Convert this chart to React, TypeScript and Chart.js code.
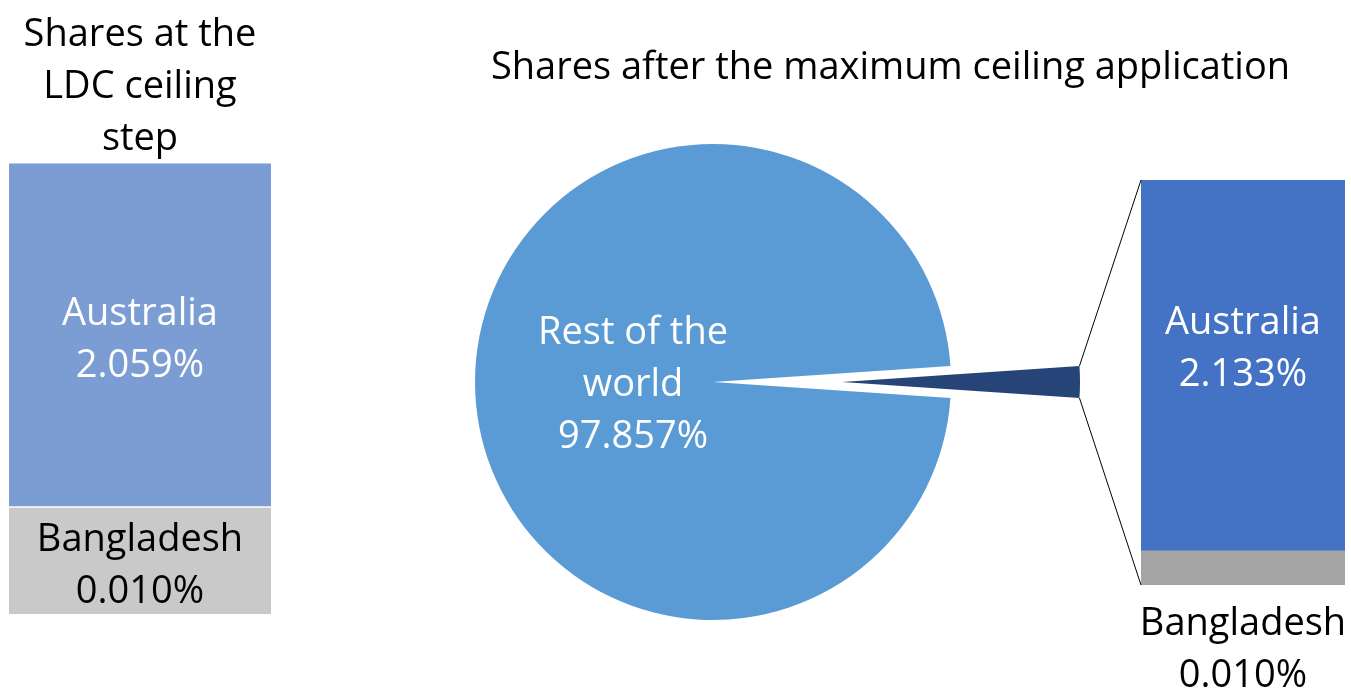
import React, { useEffect, useRef } from "react";
import { Chart, registerables } from "chart.js";

Chart.register(...registerables);

const FONT = "'Open Sans', sans-serif";
const FONT_SIZE = 38;
const LINE_H = 1.37;
const TEXT_SHIFT = 3;

// Left panel: shares at the LDC ceiling step (stack order bottom -> top)
const ldcTitle = ["Shares at the", "LDC ceiling", "step"];
const ldcCountries = ["Bangladesh", "Australia"];
const ldcShares = [0.01, 2.059];
const ldcColors = ["#C9C9C9", "#7B9DD4"];
const ldcTextColors = ["#000000", "#FFFFFF"];

// Pie: shares after the maximum ceiling application
const pieTitle = "Shares after the maximum ceiling application";
const pieLabels = ["Rest of the world", "Australia + Bangladesh"];
const pieShares = [97.857, 2.143];
const pieColors = ["#5B9BD5", "#264478"];

// Right bar (breakdown of the small slice), bottom -> top
const finalCountries = ["Bangladesh", "Australia"];
const finalShares = [0.01, 2.133];
const finalColors = ["#A5A5A5", "#4472C4"];
const finalTextColors = ["#000000", "#FFFFFF"];

const fmt = (v: number) => v.toFixed(3) + "%";

function drawLines(ctx: CanvasRenderingContext2D, lines: string[], x: number, yCenter: number, color: string) {
  const lh = FONT_SIZE * LINE_H;
  ctx.save();
  ctx.font = `${FONT_SIZE}px ${FONT}`;
  ctx.fillStyle = color;
  ctx.textAlign = "center";
  ctx.textBaseline = "middle";
  const y0 = yCenter - ((lines.length - 1) * lh) / 2 + TEXT_SHIFT;
  lines.forEach((l, i) => ctx.fillText(l, x, y0 + i * lh));
  ctx.restore();
}

export default function App() {
  const leftRef = useRef<HTMLCanvasElement>(null);
  const pieRef = useRef<HTMLCanvasElement>(null);
  const pieOutRef = useRef<HTMLCanvasElement>(null);
  const rightRef = useRef<HTMLCanvasElement>(null);

  useEffect(() => {
    const charts: Chart[] = [];
    const total = pieShares.reduce((a, b) => a + b, 0);
    const rotation = 90 + (pieShares[1] / total) * 180;

    // Left stacked bar
    charts.push(
      new Chart(leftRef.current!, {
        type: "bar",
        data: {
          labels: ["LDC"],
          datasets: ldcCountries.map((c, i) => ({
            label: c,
            data: [ldcShares[i]],
            backgroundColor: ldcColors[i],
            borderColor: "#FFFFFF",
            borderWidth: i === 1 ? { top: 0, left: 0, right: 0, bottom: 2 } : 0,
            borderSkipped: false,
            barPercentage: 1,
            categoryPercentage: 1,
          })),
        },
        options: {
          responsive: false,
          animation: false,
          events: [],
          layout: { padding: { left: 9, right: 19, top: 0, bottom: 78 } },
          scales: {
            x: { display: false, stacked: true },
            y: {
              type: "logarithmic",
              display: false,
              stacked: true,
              min: 0.00194,
              max: ldcShares.reduce((a, b) => a + b, 0),
            },
          },
          plugins: {
            legend: { display: false },
            tooltip: { enabled: false },
            title: {
              display: true,
              text: ldcTitle,
              color: "#000000",
              font: { family: FONT, size: FONT_SIZE, weight: "normal", lineHeight: LINE_H },
              padding: { top: 9, bottom: -2 },
            },
          },
        },
        plugins: [
          {
            id: "ldcLabels",
            afterDatasetsDraw(chart: any) {
              chart.data.datasets.forEach((ds: any, i: number) => {
                const el: any = chart.getDatasetMeta(i).data[0];
                drawLines(chart.ctx, [ds.label, fmt(ldcShares[i])], el.x, (el.y + el.base) / 2 + 2, ldcTextColors[i]);
              });
            },
          },
        ],
      } as any)
    );

    // Pie (main, without the pulled-out slice)
    charts.push(
      new Chart(pieRef.current!, {
        type: "pie",
        data: {
          labels: pieLabels,
          datasets: [
            {
              data: pieShares,
              backgroundColor: [pieColors[0], "rgba(0,0,0,0)"],
              borderWidth: 0,
            },
          ],
        },
        options: {
          responsive: false,
          animation: false,
          events: [],
          rotation,
          radius: 238,
          layout: { padding: 0 },
          plugins: { legend: { display: false }, tooltip: { enabled: false } },
        },
        plugins: [
          {
            id: "pieLabel",
            afterDatasetsDraw(chart: any) {
              const arc: any = chart.getDatasetMeta(0).data[0];
              const mid = (arc.startAngle + arc.endAngle) / 2;
              const r = arc.outerRadius * 0.336;
              drawLines(
                chart.ctx,
                ["Rest of the", "world", fmt(pieShares[0])],
                arc.x + Math.cos(mid) * r,
                arc.y + Math.sin(mid) * r,
                "#FFFFFF"
              );
            },
          },
        ],
      } as any)
    );

    // Pulled-out slice
    const pieOut = new Chart(pieOutRef.current!, {
      type: "pie",
      data: {
        labels: pieLabels,
        datasets: [
          {
            data: pieShares,
            backgroundColor: ["rgba(0,0,0,0)", pieColors[1]],
            borderWidth: 0,
          },
        ],
      },
      options: {
        responsive: false,
        animation: false,
        events: [],
        rotation,
        radius: 238,
        layout: { padding: 0 },
        plugins: { legend: { display: false }, tooltip: { enabled: false } },
      },
    } as any);
    charts.push(pieOut);

    // Right stacked bar with the main title and connector lines
    charts.push(
      new Chart(rightRef.current!, {
        type: "bar",
        data: {
          labels: ["Other"],
          datasets: finalCountries.map((c, i) => ({
            label: c,
            data: [finalShares[i]],
            backgroundColor: finalColors[i],
            borderWidth: 0,
            barPercentage: 1,
            categoryPercentage: 1,
          })),
        },
        options: {
          responsive: false,
          animation: false,
          events: [],
          layout: { padding: { left: 0, right: 6, top: 0, bottom: 107 } },
          scales: {
            x: { display: false, stacked: true },
            y: {
              type: "logarithmic",
              display: true,
              stacked: true,
              min: 0.0061,
              max: finalShares.reduce((a, b) => a + b, 0),
              ticks: { display: false },
              grid: { display: false },
              border: { display: false },
              afterFit: (scale: any) => {
                scale.width = 705;
              },
            },
          },
          plugins: {
            legend: { display: false },
            tooltip: { enabled: false },
            title: {
              display: true,
              text: pieTitle,
              color: "#000000",
              font: { family: FONT, size: FONT_SIZE, weight: "normal", lineHeight: LINE_H },
              padding: { top: 42, bottom: 86 },
            },
          },
        },
        plugins: [
          {
            id: "finalLabelsAndConnectors",
            afterDatasetsDraw(chart: any) {
              const ctx = chart.ctx;
              const lh = FONT_SIZE * LINE_H;
              const topEl: any = chart.getDatasetMeta(1).data[0];
              const botEl: any = chart.getDatasetMeta(0).data[0];
              // Australia inside
              drawLines(ctx, [finalCountries[1], fmt(finalShares[1])], topEl.x, (topEl.y + topEl.base) / 2 - 19, finalTextColors[1]);
              // Bangladesh below the bar
              drawLines(ctx, [finalCountries[0], fmt(finalShares[0])], botEl.x, botEl.base + 36 + lh / 2, finalTextColors[0]);

              // connector lines from pulled-out slice to bar
              const arc: any = pieOut.getDatasetMeta(0).data[1];
              const pr = pieOut.canvas.getBoundingClientRect();
              const cr = chart.canvas.getBoundingClientRect();
              const dx = pr.left - cr.left;
              const dy = pr.top - cr.top;
              const p1 = {
                x: arc.x + Math.cos(arc.startAngle) * arc.outerRadius + dx,
                y: arc.y + Math.sin(arc.startAngle) * arc.outerRadius + dy,
              };
              const p2 = {
                x: arc.x + Math.cos(arc.endAngle) * arc.outerRadius + dx,
                y: arc.y + Math.sin(arc.endAngle) * arc.outerRadius + dy,
              };
              const left = topEl.x - topEl.width / 2;
              ctx.save();
              ctx.strokeStyle = "#000000";
              ctx.lineWidth = 1;
              ctx.beginPath();
              ctx.moveTo(p1.x, p1.y);
              ctx.lineTo(left, topEl.y);
              ctx.moveTo(p2.x, p2.y);
              ctx.lineTo(left, botEl.base);
              ctx.stroke();
              ctx.restore();
            },
          },
        ],
      } as any)
    );

    return () => charts.forEach((c) => c.destroy());
  }, []);

  return (
    <div
      style={{
        position: "fixed",
        left: 0,
        top: 0,
        width: 1351,
        height: 692,
        overflow: "hidden",
        background: "#FFFFFF",
      }}
    >
      <canvas ref={pieRef} width={500} height={500} style={{ position: "absolute", left: 463, top: 132 }} />
      <canvas ref={pieOutRef} width={500} height={500} style={{ position: "absolute", left: 592, top: 132 }} />
      <canvas ref={leftRef} width={290} height={692} style={{ position: "absolute", left: 0, top: 0 }} />
      <canvas ref={rightRef} width={915} height={692} style={{ position: "absolute", left: 436, top: 0 }} />
    </div>
  );
}
